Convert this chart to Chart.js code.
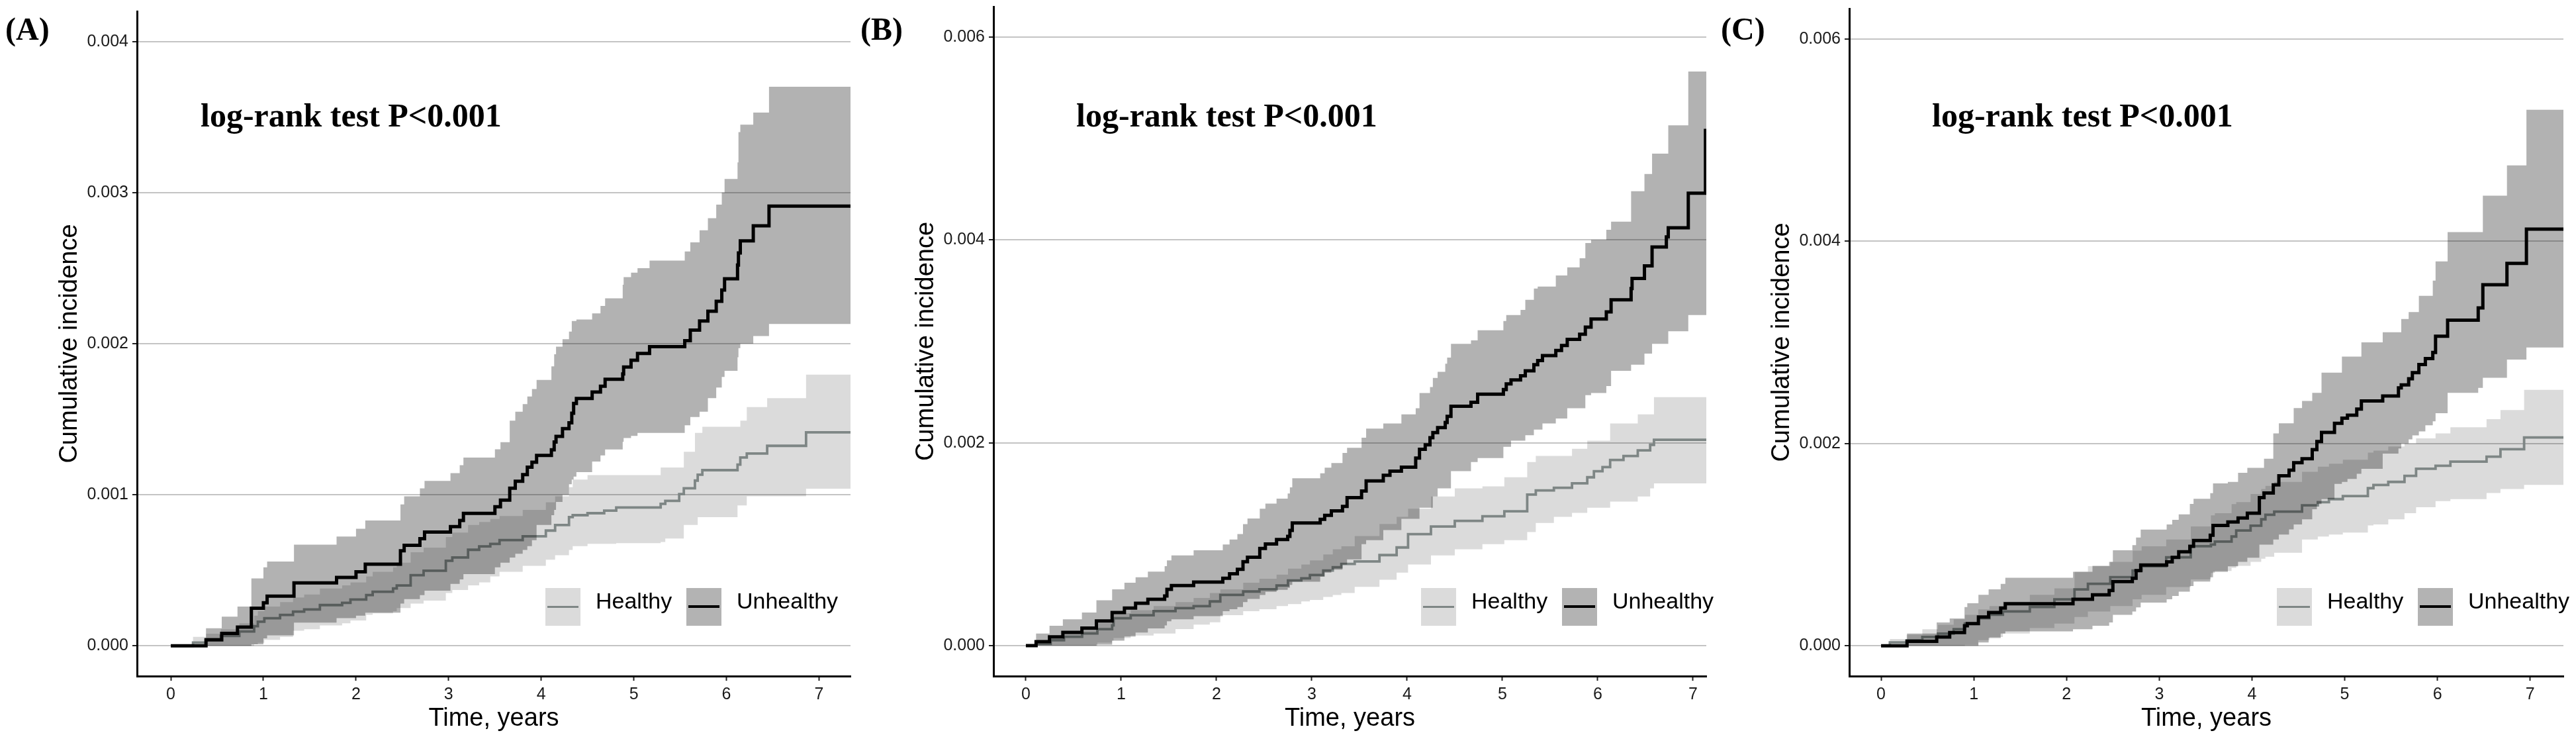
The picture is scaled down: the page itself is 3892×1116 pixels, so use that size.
<!DOCTYPE html>
<html>
<head>
<meta charset="utf-8">
<script src="https://cdn.jsdelivr.net/npm/chart.js@4.4.1/dist/chart.umd.min.js"></script>
<style>
  body { margin: 0; background: #fff; width: 3892px; height: 1116px; overflow: hidden; position: relative; }
  canvas { position: absolute; top: 0; }
  .tag { position: absolute; font: bold 48px 'Liberation Serif', 'Times New Roman', serif; line-height: 48px; color: #000; }
  .pval { position: absolute; font: bold 50px 'Liberation Serif', 'Times New Roman', serif; line-height: 50px; color: #000; white-space: nowrap; }
  .key { position: absolute; top: 888px; width: 53px; height: 57px; }
  .key i { position: absolute; left: 3px; right: 3px; }
  .legtxt { position: absolute; top: 888px; height: 57px; line-height: 57px; font: 34px 'Liberation Sans', Arial, sans-serif; color: #000; white-space: nowrap; }
</style>
</head>
<body>
<canvas id="chartA" width="1288" height="1116" style="left:2px"></canvas>
<canvas id="chartB" width="1287" height="1116" style="left:1296px"></canvas>
<canvas id="chartC" width="1289" height="1116" style="left:2589px"></canvas>

<script>
// cumulative incidence, in units of 1/1000 (0.001 on the axis = 1)
// panel A
const aHealthyT   = [0, 0.24, 0.38, 0.54, 0.74, 0.90, 0.94, 1.01, 1.18, 1.32, 1.44, 1.61, 1.85, 1.94, 2.11, 2.18, 2.40, 2.44, 2.59, 2.73, 2.97, 3.04, 3.21, 3.33, 3.45, 3.55, 3.80, 4.05, 4.15, 4.30, 4.34, 4.50, 4.68, 4.81, 5.29, 5.34, 5.49, 5.54, 5.66, 5.69, 5.74, 6.12, 6.15, 6.22, 6.44, 6.86, 7.34];
const aHealthyEst = [0, 0.022, 0.044, 0.066, 0.095, 0.13, 0.16, 0.183, 0.205, 0.227, 0.241, 0.27, 0.285, 0.307, 0.336, 0.358, 0.38, 0.40, 0.468, 0.497, 0.563, 0.585, 0.636, 0.658, 0.675, 0.70, 0.725, 0.763, 0.80, 0.852, 0.865, 0.878, 0.895, 0.916, 0.94, 0.96, 1.005, 1.043, 1.094, 1.133, 1.163, 1.2, 1.247, 1.273, 1.324, 1.413, 1.413];
const aHealthyHi  = [0, 0.06, 0.08, 0.11, 0.15, 0.20, 0.23, 0.26, 0.29, 0.32, 0.34, 0.38, 0.40, 0.42, 0.46, 0.49, 0.52, 0.55, 0.62, 0.65, 0.72, 0.75, 0.80, 0.82, 0.84, 0.86, 0.90, 0.95, 0.99, 1.05, 1.10, 1.13, 1.13, 1.13, 1.18, 1.18, 1.18, 1.285, 1.41, 1.41, 1.45, 1.45, 1.49, 1.58, 1.64, 1.795, 1.795];
const aHealthyLo  = [0, 0, 0, 0, 0, 0.01, 0.02, 0.04, 0.06, 0.10, 0.11, 0.135, 0.15, 0.168, 0.205, 0.215, 0.23, 0.25, 0.28, 0.30, 0.35, 0.37, 0.40, 0.42, 0.46, 0.49, 0.53, 0.57, 0.60, 0.635, 0.66, 0.675, 0.675, 0.68, 0.687, 0.71, 0.71, 0.80, 0.80, 0.852, 0.852, 0.93, 0.93, 0.99, 0.99, 1.04, 1.04];

const aUnhealthyT   = [0, 0.38, 0.55, 0.72, 0.87, 1.00, 1.04, 1.33, 1.79, 2.00, 2.10, 2.48, 2.52, 2.69, 2.74, 3.02, 3.12, 3.16, 3.50, 3.56, 3.66, 3.72, 3.80, 3.85, 3.90, 3.95, 4.11, 4.14, 4.16, 4.23, 4.30, 4.33, 4.35, 4.38, 4.55, 4.64, 4.69, 4.88, 4.89, 4.97, 5.04, 5.17, 5.55, 5.61, 5.71, 5.80, 5.89, 5.95, 5.98, 6.12, 6.13, 6.15, 6.29, 6.46, 7.34];
const aUnhealthyEst = [0, 0.04, 0.083, 0.124, 0.249, 0.285, 0.329, 0.417, 0.453, 0.49, 0.541, 0.629, 0.665, 0.709, 0.753, 0.789, 0.83, 0.877, 0.921, 0.965, 1.043, 1.089, 1.133, 1.183, 1.216, 1.26, 1.298, 1.349, 1.387, 1.438, 1.476, 1.54, 1.604, 1.637, 1.68, 1.718, 1.764, 1.80, 1.845, 1.89, 1.935, 1.98, 2.02, 2.09, 2.15, 2.215, 2.28, 2.355, 2.43, 2.52, 2.60, 2.68, 2.78, 2.91, 2.91];
const aUnhealthyHi  = [0, 0.117, 0.193, 0.26, 0.446, 0.52, 0.558, 0.67, 0.724, 0.775, 0.83, 0.936, 0.99, 1.042, 1.092, 1.143, 1.196, 1.246, 1.301, 1.348, 1.49, 1.55, 1.60, 1.65, 1.70, 1.76, 1.85, 1.93, 1.98, 2.03, 2.08, 2.15, 2.15, 2.16, 2.20, 2.25, 2.30, 2.39, 2.44, 2.47, 2.50, 2.55, 2.61, 2.67, 2.75, 2.83, 2.92, 3.00, 3.09, 3.20, 3.40, 3.45, 3.53, 3.70, 3.70];
const aUnhealthyLo  = [0, 0, 0, 0, 0.01, 0.05, 0.07, 0.154, 0.183, 0.20, 0.22, 0.28, 0.31, 0.336, 0.365, 0.41, 0.44, 0.475, 0.52, 0.55, 0.585, 0.61, 0.635, 0.66, 0.70, 0.80, 0.865, 0.90, 0.953, 1.00, 1.07, 1.10, 1.12, 1.15, 1.22, 1.26, 1.30, 1.35, 1.375, 1.39, 1.41, 1.41, 1.46, 1.515, 1.55, 1.64, 1.71, 1.78, 1.82, 1.91, 1.97, 2.00, 2.05, 2.13, 2.13];

// panel B
const bHealthyT   = [0, 0.107, 0.26, 0.40, 0.59, 0.75, 0.905, 0.92, 1.10, 1.34, 1.57, 1.76, 1.93, 2.04, 2.28, 2.45, 2.63, 2.75, 2.89, 2.98, 3.12, 3.22, 3.31, 3.45, 3.71, 3.89, 4.01, 4.25, 4.50, 4.79, 5.02, 5.26, 5.35, 5.54, 5.73, 5.89, 5.96, 6.05, 6.13, 6.27, 6.42, 6.55, 6.59, 7.14];
const bHealthyEst = [0, 0.017, 0.054, 0.087, 0.12, 0.163, 0.20, 0.27, 0.30, 0.34, 0.37, 0.39, 0.436, 0.50, 0.534, 0.556, 0.593, 0.643, 0.664, 0.697, 0.74, 0.773, 0.806, 0.83, 0.893, 0.968, 1.10, 1.174, 1.23, 1.276, 1.325, 1.49, 1.53, 1.557, 1.60, 1.66, 1.72, 1.76, 1.83, 1.87, 1.925, 1.98, 2.03, 2.03];
const bHealthyHi  = [0, 0.05, 0.09, 0.13, 0.17, 0.22, 0.28, 0.32, 0.35, 0.39, 0.43, 0.47, 0.52, 0.556, 0.62, 0.66, 0.70, 0.76, 0.80, 0.84, 0.90, 0.95, 0.98, 1.08, 1.20, 1.27, 1.35, 1.47, 1.55, 1.57, 1.66, 1.81, 1.87, 1.87, 1.94, 2.02, 2.02, 2.02, 2.19, 2.19, 2.28, 2.28, 2.45, 2.45];
const bHealthyLo  = [0, 0, 0, 0, 0, 0.03, 0.05, 0.076, 0.10, 0.12, 0.163, 0.207, 0.23, 0.30, 0.34, 0.36, 0.39, 0.41, 0.436, 0.45, 0.48, 0.50, 0.52, 0.58, 0.65, 0.72, 0.80, 0.89, 0.95, 1.00, 1.04, 1.12, 1.21, 1.27, 1.31, 1.36, 1.36, 1.36, 1.42, 1.42, 1.47, 1.55, 1.60, 1.60];

const bUnhealthyT   = [0, 0.107, 0.248, 0.388, 0.588, 0.74, 0.905, 1.034, 1.151, 1.28, 1.456, 1.48, 1.527, 1.76, 2.066, 2.137, 2.219, 2.278, 2.325, 2.454, 2.513, 2.63, 2.747, 2.77, 2.795, 3.088, 3.135, 3.205, 3.322, 3.37, 3.522, 3.57, 3.75, 3.82, 3.94, 4.09, 4.13, 4.19, 4.24, 4.27, 4.32, 4.40, 4.42, 4.46, 4.67, 4.74, 5.01, 5.04, 5.09, 5.19, 5.24, 5.33, 5.37, 5.42, 5.56, 5.62, 5.68, 5.81, 5.87, 5.93, 6.09, 6.14, 6.35, 6.36, 6.49, 6.57, 6.72, 6.74, 6.95, 7.13, 7.14];
const bUnhealthyEst = [0, 0.039, 0.087, 0.131, 0.174, 0.244, 0.327, 0.37, 0.418, 0.458, 0.49, 0.556, 0.593, 0.627, 0.664, 0.708, 0.752, 0.828, 0.871, 0.959, 1.002, 1.046, 1.078, 1.137, 1.209, 1.246, 1.285, 1.329, 1.373, 1.46, 1.525, 1.625, 1.68, 1.72, 1.76, 1.85, 1.936, 1.98, 2.05, 2.10, 2.15, 2.20, 2.26, 2.36, 2.40, 2.48, 2.525, 2.58, 2.62, 2.66, 2.71, 2.77, 2.81, 2.86, 2.91, 2.96, 3.02, 3.07, 3.14, 3.22, 3.29, 3.41, 3.52, 3.62, 3.745, 3.93, 4.03, 4.12, 4.46, 5.08, 5.08];
const bUnhealthyHi  = [0, 0.12, 0.196, 0.26, 0.327, 0.447, 0.556, 0.62, 0.675, 0.73, 0.784, 0.84, 0.889, 0.94, 0.998, 1.046, 1.10, 1.198, 1.253, 1.35, 1.40, 1.45, 1.50, 1.56, 1.65, 1.70, 1.754, 1.80, 1.90, 1.95, 2.05, 2.14, 2.19, 2.19, 2.28, 2.34, 2.49, 2.49, 2.55, 2.64, 2.70, 2.78, 2.84, 2.975, 3.01, 3.11, 3.20, 3.26, 3.26, 3.31, 3.41, 3.52, 3.54, 3.54, 3.65, 3.65, 3.73, 3.82, 3.97, 4.00, 4.10, 4.18, 4.48, 4.48, 4.65, 4.85, 4.85, 5.13, 5.66, 5.66, 5.66];
const bUnhealthyLo  = [0, 0, 0, 0, 0, 0.01, 0.05, 0.09, 0.13, 0.17, 0.20, 0.24, 0.26, 0.29, 0.34, 0.36, 0.38, 0.43, 0.46, 0.50, 0.53, 0.55, 0.57, 0.60, 0.63, 0.68, 0.72, 0.75, 0.80, 0.85, 1.00, 1.04, 1.14, 1.14, 1.25, 1.25, 1.36, 1.36, 1.36, 1.47, 1.55, 1.55, 1.55, 1.72, 1.81, 1.85, 1.96, 1.96, 2.02, 2.02, 2.075, 2.13, 2.13, 2.19, 2.24, 2.24, 2.34, 2.34, 2.47, 2.49, 2.56, 2.71, 2.77, 2.77, 2.88, 2.975, 2.975, 3.10, 3.26, 3.26, 3.26];

// panel C
const cHealthyT   = [0, 0.095, 0.276, 0.445, 0.614, 0.783, 0.904, 1.048, 1.169, 1.314, 1.604, 1.869, 2.086, 2.231, 2.472, 2.713, 2.81, 3.075, 3.34, 3.557, 3.60, 3.78, 3.83, 3.985, 4.10, 4.145, 4.24, 4.54, 4.71, 4.83, 4.98, 5.25, 5.31, 5.47, 5.645, 5.77, 5.98, 6.14, 6.53, 6.68, 6.935, 7.36];
const cHealthyEst = [0, 0.033, 0.055, 0.087, 0.12, 0.164, 0.219, 0.273, 0.306, 0.339, 0.383, 0.459, 0.557, 0.612, 0.678, 0.743, 0.787, 0.874, 0.984, 1.00, 1.03, 1.08, 1.14, 1.187, 1.25, 1.295, 1.326, 1.388, 1.42, 1.45, 1.48, 1.558, 1.59, 1.62, 1.68, 1.75, 1.78, 1.82, 1.87, 1.944, 2.06, 2.06];
const cHealthyHi  = [0, 0.066, 0.11, 0.164, 0.208, 0.262, 0.306, 0.36, 0.393, 0.437, 0.503, 0.568, 0.732, 0.787, 0.83, 0.94, 0.984, 1.05, 1.18, 1.29, 1.31, 1.40, 1.42, 1.50, 1.55, 1.58, 1.62, 1.72, 1.77, 1.80, 1.84, 1.91, 1.93, 1.97, 2.00, 2.05, 2.10, 2.16, 2.24, 2.33, 2.53, 2.53];
const cHealthyLo  = [0, 0, 0, 0, 0, 0, 0.01, 0.055, 0.087, 0.12, 0.175, 0.219, 0.284, 0.339, 0.393, 0.459, 0.503, 0.58, 0.656, 0.72, 0.74, 0.77, 0.79, 0.83, 0.86, 0.88, 0.92, 1.05, 1.08, 1.10, 1.12, 1.19, 1.20, 1.25, 1.31, 1.37, 1.43, 1.45, 1.51, 1.55, 1.59, 1.60];

const cUnhealthyT   = [0, 0.28, 0.60, 0.74, 0.90, 0.93, 1.05, 1.16, 1.29, 1.34, 2.07, 2.28, 2.46, 2.50, 2.71, 2.75, 2.80, 3.08, 3.14, 3.21, 3.33, 3.37, 3.55, 3.58, 3.74, 3.85, 3.95, 4.08, 4.13, 4.23, 4.29, 4.40, 4.45, 4.54, 4.65, 4.70, 4.75, 4.89, 4.97, 5.03, 5.13, 5.18, 5.41, 5.58, 5.61, 5.69, 5.73, 5.80, 5.87, 5.95, 5.98, 6.11, 6.44, 6.49, 6.75, 6.96, 7.36];
const cUnhealthyEst = [0, 0.044, 0.087, 0.131, 0.197, 0.219, 0.284, 0.328, 0.372, 0.415, 0.459, 0.503, 0.546, 0.634, 0.667, 0.743, 0.798, 0.83, 0.874, 0.929, 0.984, 1.04, 1.093, 1.19, 1.224, 1.264, 1.31, 1.465, 1.51, 1.59, 1.68, 1.737, 1.81, 1.85, 1.94, 2.02, 2.11, 2.20, 2.25, 2.28, 2.34, 2.42, 2.47, 2.55, 2.58, 2.64, 2.70, 2.78, 2.84, 2.90, 3.06, 3.22, 3.34, 3.57, 3.78, 4.12, 4.12];
const cUnhealthyHi  = [0, 0.12, 0.23, 0.27, 0.383, 0.42, 0.503, 0.557, 0.612, 0.673, 0.732, 0.79, 0.83, 0.944, 0.995, 1.07, 1.148, 1.20, 1.246, 1.30, 1.403, 1.453, 1.508, 1.606, 1.62, 1.71, 1.76, 1.76, 1.85, 2.10, 2.20, 2.20, 2.35, 2.42, 2.50, 2.50, 2.70, 2.70, 2.86, 2.86, 2.86, 3.00, 3.10, 3.10, 3.23, 3.30, 3.30, 3.46, 3.46, 3.61, 3.80, 4.09, 4.09, 4.45, 4.75, 5.30, 5.30];
const cUnhealthyLo  = [0, 0, 0, 0, 0, 0, 0.033, 0.077, 0.12, 0.142, 0.164, 0.197, 0.23, 0.306, 0.339, 0.38, 0.426, 0.459, 0.492, 0.535, 0.59, 0.634, 0.678, 0.732, 0.785, 0.83, 0.87, 1.00, 1.00, 1.05, 1.10, 1.15, 1.20, 1.25, 1.35, 1.40, 1.45, 1.60, 1.62, 1.65, 1.70, 1.75, 1.90, 1.95, 2.00, 2.04, 2.08, 2.12, 2.18, 2.22, 2.30, 2.50, 2.55, 2.65, 2.83, 2.95, 2.95];

const groups   = ['Healthy', 'Unhealthy'];
const tags     = ['(A)', '(B)', '(C)'];
const pText    = 'log-rank test P<0.001';
const xTicks   = [0, 1, 2, 3, 4, 5, 6, 7];
const yTicksA  = [0, 0.001, 0.002, 0.003, 0.004];
const yTicksBC = [0, 0.002, 0.004, 0.006];

Chart.defaults.font.family = "'Liberation Sans', Arial, sans-serif";

const healthyLine = '#7e8685';

function pts(t, v) {
  return t.map((x, i) => ({ x: x, y: v[i] / 1000 }));
}

function band(t, v, fill, color, order) {
  return {
    data: pts(t, v), stepped: true, pointRadius: 0, borderWidth: 0,
    borderColor: 'rgba(0,0,0,0)', backgroundColor: color, fill: fill, order: order
  };
}

function line(t, v, color, width, order) {
  return {
    data: pts(t, v), stepped: true, pointRadius: 0, borderWidth: width,
    borderColor: color, fill: false, order: order
  };
}

const panels = [
  { id: 'chartA', H: [aHealthyT, aHealthyEst, aHealthyLo, aHealthyHi], U: [aUnhealthyT, aUnhealthyEst, aUnhealthyLo, aUnhealthyHi],
    xMin: -0.365, xMax: 7.34, yMin: -0.0002, yMax: 0.0042, yTicks: yTicksA, padTop: 17, tagX: 8, pX: 303, legX: 824 },
  { id: 'chartB', H: [bHealthyT, bHealthyEst, bHealthyLo, bHealthyHi], U: [bUnhealthyT, bUnhealthyEst, bUnhealthyLo, bUnhealthyHi],
    xMin: -0.34, xMax: 7.139, yMin: -0.0003, yMax: 0.0063, yTicks: yTicksBC, padTop: 10, tagX: 1300, pX: 1626, legX: 2147 },
  { id: 'chartC', H: [cHealthyT, cHealthyEst, cHealthyLo, cHealthyHi], U: [cUnhealthyT, cUnhealthyEst, cUnhealthyLo, cUnhealthyHi],
    xMin: -0.343, xMax: 7.359, yMin: -0.0003, yMax: 0.0063, yTicks: yTicksBC, padTop: 13, tagX: 2600, pX: 2919, legX: 3440 }
];

const tickFont = { size: 25 };

panels.forEach((p, k) => {
  const [ht, he, hl, hh] = p.H;
  const [ut, ue, ul, uh] = p.U;
  new Chart(document.getElementById(p.id), {
    type: 'line',
    data: {
      datasets: [
        band(ht, hl, false, 'rgba(0,0,0,0)', 7),
        band(ht, hh, '-1', 'rgba(0,0,0,0.14)', 6),
        line(ht, he, healthyLine, 3.8, 5),
        band(ut, ul, false, 'rgba(0,0,0,0)', 4),
        band(ut, uh, '-1', 'rgba(0,0,0,0.3)', 3),
        line(ut, ue, '#000', 5, 1)
      ]
    },
    options: {
      responsive: false,
      animation: false,
      layout: { padding: { top: p.padTop, right: 5, left: 0, bottom: 0 } },
      plugins: { legend: { display: false }, tooltip: { enabled: false } },
      scales: {
        x: {
          type: 'linear', min: p.xMin, max: p.xMax,
          afterBuildTicks: s => { s.ticks = xTicks.map(v => ({ value: v })); },
          afterFit: s => { s.height = 95; s.paddingLeft = 0; s.paddingRight = 0; },
          grid: { drawOnChartArea: false, drawTicks: true, tickLength: 7, tickWidth: 2, tickColor: '#222' },
          border: { display: true, color: '#000', width: 3 },
          ticks: { font: tickFont, color: '#1a1a1a', padding: 6, maxRotation: 0, callback: v => String(v) },
          title: { display: true, text: 'Time, years', color: '#000', font: { size: 38 }, padding: { top: 0, bottom: 8 } }
        },
        y: {
          type: 'linear', min: p.yMin, max: p.yMax,
          afterBuildTicks: s => { s.ticks = p.yTicks.map(v => ({ value: v })); },
          afterFit: s => { s.width = 205; s.paddingTop = 0; s.paddingBottom = 0; },
          grid: { color: '#c4c4c4', lineWidth: 2, drawTicks: true, tickLength: 7, tickWidth: 2, tickColor: '#222' },
          border: { display: true, color: '#000', width: 3 },
          ticks: { font: tickFont, color: '#1a1a1a', padding: 6, callback: v => v.toFixed(3) },
          title: { display: true, text: 'Cumulative incidence', color: '#000', font: { size: 38 }, padding: { top: 81, bottom: 0 } }
        }
      }
    }
  });

  // panel tag and test text
  const tag = document.createElement('div');
  tag.className = 'tag';
  tag.style.left = p.tagX + 'px';
  tag.style.top = '20px';
  tag.textContent = tags[k];
  document.body.appendChild(tag);

  const pv = document.createElement('div');
  pv.className = 'pval';
  pv.style.left = p.pX + 'px';
  pv.style.top = '149px';
  pv.textContent = pText;
  document.body.appendChild(pv);

  // legend: key boxes with the line inside, then the label
  const keys = [
    { bg: 'rgb(219,219,219)', line: healthyLine, h: 3, dx: 0, tx: 76 },
    { bg: 'rgb(179,179,179)', line: '#000', h: 4, dx: 213, tx: 289 }
  ];
  keys.forEach((kd, g) => {
    const box = document.createElement('div');
    box.className = 'key';
    box.style.left = (p.legX + kd.dx) + 'px';
    box.style.background = kd.bg;
    const ln = document.createElement('i');
    ln.style.background = kd.line;
    ln.style.height = kd.h + 'px';
    ln.style.top = (28 - kd.h / 2) + 'px';
    box.appendChild(ln);
    document.body.appendChild(box);

    const txt = document.createElement('div');
    txt.className = 'legtxt';
    txt.style.left = (p.legX + kd.tx) + 'px';
    txt.textContent = groups[g];
    document.body.appendChild(txt);
  });
});
</script>
</body>
</html>
